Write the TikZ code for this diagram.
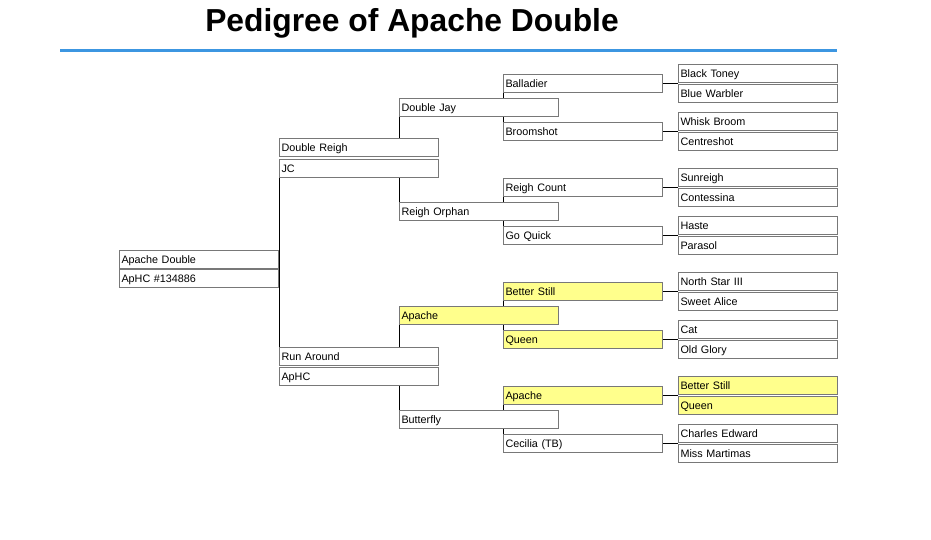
\documentclass[tikz,border=0pt]{standalone}
\usepackage{fontspec}
\setmainfont{Liberation Sans}
\usepackage{tikz}
\usetikzlibrary{positioning, calc}
\definecolor{boxgray}{RGB}{120, 120, 120}
\definecolor{hiyellow}{RGB}{255, 255, 140}
\definecolor{ruleblue}{RGB}{60, 150, 225}

\begin{document}
\begin{tikzpicture}[
    x=1pt, y=-1pt,
    horse/.style={rectangle, draw=boxgray, fill=white, line width=1pt,
                  anchor=north west, text width=155pt, align=left,
                  inner xsep=2pt, inner ysep=3pt, text height=10pt, text depth=2pt,
                  font=\fontsize{10.8}{12}\selectfont},
    hl/.style={horse, fill=hiyellow},
    link/.style={line width=1pt, black},
]
\useasboundingbox (0,0) rectangle (931,540);

\node[anchor=base, font=\fontsize{31.8}{36}\selectfont\bfseries] (title) at (412,32) {Pedigree of Apache Double};
\coordinate (ruleL) at (60,50.5);
\coordinate (ruleR) at (837,50.5);
\draw[ruleblue, line width=2.5pt] (ruleL) -- (ruleR);

% subject
\node[horse] (subject) at (119,250) {Apache Double};
\node[horse, below=0pt of subject] (subjectreg) {ApHC \#134886};

% parents
\node[horse] (doublereigh) at (279,138.5) {Double Reigh};
\node[horse, below=1.5pt of doublereigh] (jc) {JC};
\node[horse] (runaround) at (279,346.5) {Run Around};
\node[horse, below=1pt of runaround] (aphc) {ApHC};

% grandparents
\node[horse] (doublejay) at (399,98) {Double Jay};
\node[horse] (reighorphan) at (399,202) {Reigh Orphan};
\node[hl] (apache) at (399,306) {Apache};
\node[horse] (butterfly) at (399,410) {Butterfly};

% great-grandparents
\node[horse] (balladier) at (503,74) {Balladier};
\node[horse] (broomshot) at (503,122) {Broomshot};
\node[horse] (reighcount) at (503,178) {Reigh Count};
\node[horse] (goquick) at (503,226) {Go Quick};
\node[hl] (betterstill) at (503,282) {Better Still};
\node[hl] (queen) at (503,330) {Queen};
\node[hl] (apachedam) at (503,386) {Apache};
\node[horse] (cecilia) at (503,434) {Cecilia (TB)};

% great-great-grandparents
\node[horse] (blacktoney) at (678,64) {Black Toney};
\node[horse, below=1pt of blacktoney] (bluewarbler) {Blue Warbler};
\node[horse] (whiskbroom) at (678,112) {Whisk Broom};
\node[horse, below=1pt of whiskbroom] (centreshot) {Centreshot};
\node[horse] (sunreigh) at (678,168) {Sunreigh};
\node[horse, below=1pt of sunreigh] (contessina) {Contessina};
\node[horse] (haste) at (678,216) {Haste};
\node[horse, below=1pt of haste] (parasol) {Parasol};
\node[horse] (northstar) at (678,272) {North Star III};
\node[horse, below=1pt of northstar] (sweetalice) {Sweet Alice};
\node[horse] (cat) at (678,320) {Cat};
\node[horse, below=1pt of cat] (oldglory) {Old Glory};
\node[hl] (betterstillb) at (678,376) {Better Still};
\node[hl, below=1pt of betterstillb] (queenb) {Queen};
\node[horse] (charlesedward) at (678,424) {Charles Edward};
\node[horse, below=1pt of charlesedward] (missmartimas) {Miss Martimas};

\draw[link] (jc.south west) -- (runaround.north west);

\draw[link] (doublejay.south west) -- (doublejay.south west |- doublereigh.north);
\draw[link] (reighorphan.north west |- jc.south) -- (reighorphan.north west);
\draw[link] (apache.south west) -- (apache.south west |- runaround.north);
\draw[link] (butterfly.north west |- aphc.south) -- (butterfly.north west);

\draw[link] (balladier.south west) -- (balladier.south west |- doublejay.north);
\draw[link] (broomshot.north west |- doublejay.south) -- (broomshot.north west);
\draw[link] (reighcount.south west) -- (reighcount.south west |- reighorphan.north);
\draw[link] (goquick.north west |- reighorphan.south) -- (goquick.north west);
\draw[link] (betterstill.south west) -- (betterstill.south west |- apache.north);
\draw[link] (queen.north west |- apache.south) -- (queen.north west);
\draw[link] (apachedam.south west) -- (apachedam.south west |- butterfly.north);
\draw[link] (cecilia.north west |- butterfly.south) -- (cecilia.north west);

\draw[link] (balladier.east) -- (balladier.east -| blacktoney.west);
\draw[link] (broomshot.east) -- (broomshot.east -| whiskbroom.west);
\draw[link] (reighcount.east) -- (reighcount.east -| sunreigh.west);
\draw[link] (goquick.east) -- (goquick.east -| haste.west);
\draw[link] (betterstill.east) -- (betterstill.east -| northstar.west);
\draw[link] (queen.east) -- (queen.east -| cat.west);
\draw[link] (apachedam.east) -- (apachedam.east -| betterstillb.west);
\draw[link] (cecilia.east) -- (cecilia.east -| charlesedward.west);

\end{tikzpicture}
\end{document}
